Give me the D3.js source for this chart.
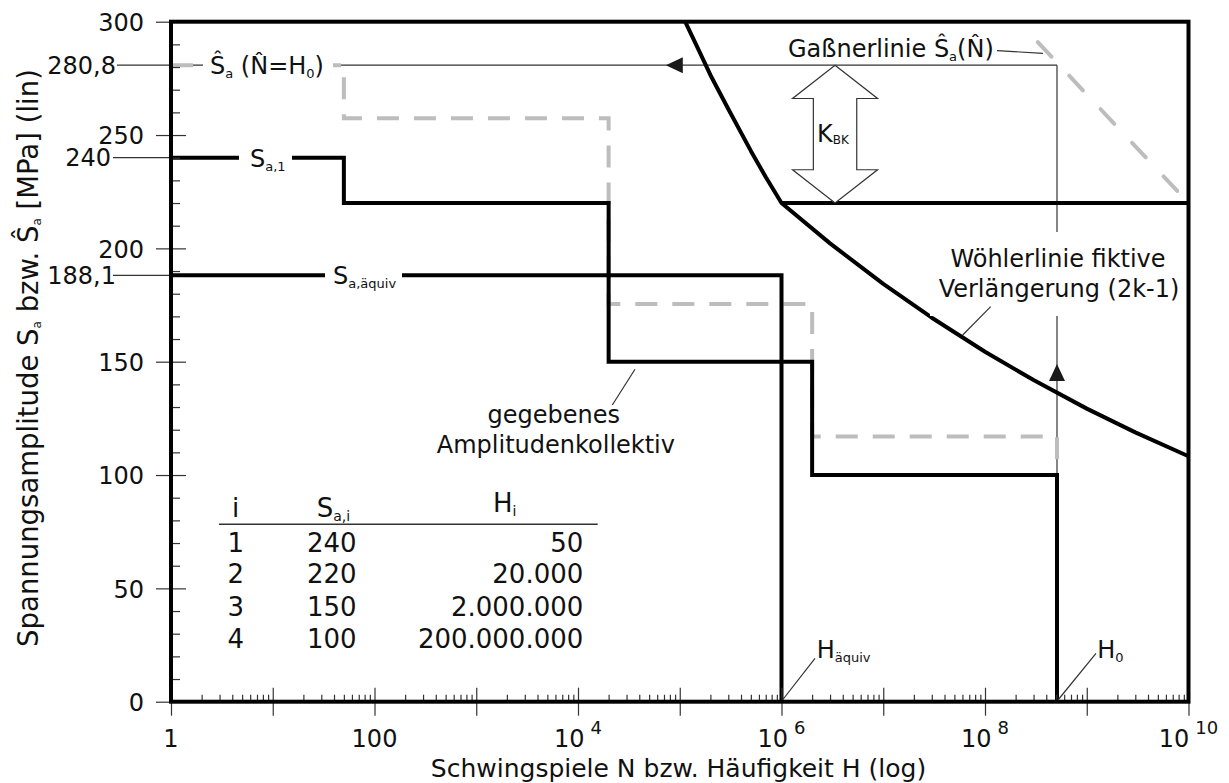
<!DOCTYPE html>
<html>
<head>
<meta charset="utf-8">
<script src="https://cdn.jsdelivr.net/npm/d3@7"></script>
<style>
  body { margin: 0; background: #fff; }
  svg { display: block; font-family: "DejaVu Sans", Verdana, sans-serif; }
</style>
</head>
<body>
<svg id="chart" width="1229" height="783"></svg>
<script>
// ---- given amplitude collective ----
const levelNo = [1, 2, 3, 4];
const amplitudes = [240, 220, 150, 100];              // S_a,i [MPa]
const frequencies = [50, 20000, 2000000, 200000000];  // H_i
const levelEnds = [50, 20000, 2000000];               // cycle counts where a level steps down
const H0 = 5.1e8;
const Hequiv = 1e6;
const Sequiv = 188.1;
const ShatH0 = 280.8;

// collective scaled up to the Gaßner line (dashed grey)
const scaledAmplitudes = [280.8, 257.4, 175.5, 117.0];

// S-N curve: slope k above the knee, fictive extension (2k-1) below
const wohlerUpperN = [1.13e5, 1.5e5, 2e5, 3e5, 5e5, 7e5, 1e6];
const wohlerUpperS = [300, 288.5, 276.5, 261.5, 243, 231.5, 220];
const wohlerLowerN = [1e6, 3e6, 1e7, 3e7, 1e8, 3e8, 1e9, 3e9, 1e10];
const wohlerLowerS = [220, 202.2, 184.3, 169.4, 154.4, 141.9, 129.3, 118.8, 108.3];
const kneeN = 1e6;
const kneeS = 220;

// Gaßner line
const gassnerN = [3.3e8, 1e10];
const gassnerS = [291, 220];

// K_BK arrow position and arrow heads on the construction lines
const kbkN = 3.36e6;
const leftArrowN = 7.3e4;
const upArrowS = 149;

// axes
const yMajorTicks = [0, 50, 100, 150, 200, 250, 300];
const yMinorTicks = [10, 20, 30, 40, 60, 70, 80, 90, 110, 120, 130, 140, 160, 170, 180, 190,
                     210, 220, 230, 240, 260, 270, 280, 290];
const yMarked = [280.8, 240, 188.1];
const xExponents = [0, 1, 2, 3, 4, 5, 6, 7, 8, 9, 10];
const xLabelExponents = [0, 2, 4, 6, 8, 10];
const xMinorMantissas = [2, 3, 4, 5, 6, 7, 8, 9];

const de = d3.formatLocale({ decimal: ",", thousands: ".", grouping: [3], currency: ["", "€"] });
const fmtDec = de.format(".1f");
const fmtInt = de.format(",d");

const svg = d3.select("#chart");
const x = d3.scaleLog().domain([1, 1e10]).range([171, 1188.5]);
const y = d3.scaleLinear().domain([0, 300]).range([701.7, 21.7]);

const THICK = 4;
const thin = "#333";

// ---- construction lines (thin) ----
svg.append("line")
  .attr("x1", 117).attr("x2", x(H0))
  .attr("y1", y(ShatH0)).attr("y2", y(ShatH0))
  .attr("stroke", thin).attr("stroke-width", 1.2);
svg.append("line")
  .attr("x1", x(H0)).attr("x2", x(H0))
  .attr("y1", y(ShatH0)).attr("y2", y(amplitudes[3]))
  .attr("stroke", thin).attr("stroke-width", 1.2);
[240, 188.1].forEach(v => {
  svg.append("line").attr("x1", 113).attr("x2", x(1))
    .attr("y1", y(v)).attr("y2", y(v)).attr("stroke", thin).attr("stroke-width", 1.2);
});

// ---- scaled collective (dashed grey) ----
const bounds = [1, ...levelEnds, H0];
const scaledPts = [];
scaledAmplitudes.forEach((s, i) => {
  scaledPts.push([bounds[i], s]);
  scaledPts.push([bounds[i + 1], s]);
});
scaledPts.push([H0, amplitudes[3]]);
const line = d3.line().x(d => x(d[0])).y(d => y(d[1]));
svg.append("path").attr("d", line(scaledPts))
  .attr("fill", "none").attr("stroke", "#bdbdbd").attr("stroke-width", THICK)
  .attr("stroke-dasharray", "22,15");

// Gaßner line
svg.append("path").attr("d", line(d3.zip(gassnerN, gassnerS)))
  .attr("fill", "none").attr("stroke", "#bdbdbd").attr("stroke-width", THICK)
  .attr("stroke-linecap", "round")
  .attr("stroke-dasharray", "20,26");

// ---- given collective (black steps) ----
const givenPts = [];
amplitudes.forEach((s, i) => {
  givenPts.push([bounds[i], s]);
  givenPts.push([bounds[i + 1], s]);
});
givenPts.push([H0, 0]);
svg.append("path").attr("d", line(givenPts))
  .attr("fill", "none").attr("stroke", "#000").attr("stroke-width", THICK);

// equivalent single-level collective
svg.append("path").attr("d", line([[1, Sequiv], [Hequiv, Sequiv], [Hequiv, 0]]))
  .attr("fill", "none").attr("stroke", "#000").attr("stroke-width", THICK);

// S-N curve
svg.append("path").attr("d", line(d3.zip(wohlerUpperN, wohlerUpperS).concat(d3.zip(wohlerLowerN, wohlerLowerS).slice(1))))
  .attr("fill", "none").attr("stroke", "#000").attr("stroke-width", THICK)
  .attr("stroke-linejoin", "round");
svg.append("path").attr("d", line([[kneeN, kneeS], [1e10, kneeS]]))
  .attr("fill", "none").attr("stroke", "#000").attr("stroke-width", THICK);

// ---- ticks ----
const yMajor = svg.append("g").attr("transform", `translate(${x(1)},0)`)
  .call(d3.axisLeft(y).tickValues(yMajorTicks).tickSize(15).tickPadding(12)
    .tickFormat(d => String(d)));
yMajor.select(".domain").remove();
yMajor.selectAll(".tick line").attr("x1", 15).attr("stroke", thin).attr("stroke-width", 1.2);
yMajor.selectAll(".tick text").attr("font-size", 24).attr("font-family", "DejaVu Sans")
  .attr("fill", "#111").attr("dy", "0.36em");

const yMinor = svg.append("g").attr("transform", `translate(${x(1)},0)`)
  .call(d3.axisLeft(y).tickValues(yMinorTicks).tickSize(-9).tickFormat(""));
yMinor.select(".domain").remove();
yMinor.selectAll(".tick line").attr("stroke", thin).attr("stroke-width", 1.2);

svg.append("g").selectAll("text").data(yMarked).join("text")
  .attr("x", d => d === 240 ? 111 : 116)
  .attr("y", d => y(d)).attr("dy", "0.36em")
  .attr("text-anchor", "end").attr("font-size", 24).attr("fill", "#111")
  .text(d => d === 240 ? "240" : fmtDec(d));

const xMajor = svg.append("g").attr("transform", `translate(0,${y(0)})`)
  .call(d3.axisBottom(x).tickValues(xExponents.map(e => Math.pow(10, e))).tickSize(14).tickFormat(""));
xMajor.select(".domain").remove();
xMajor.selectAll(".tick line").attr("y1", -14).attr("stroke", thin).attr("stroke-width", 1.2);

const xMinorVals = [];
xExponents.slice(0, -1).forEach(e => xMinorMantissas.forEach(m => xMinorVals.push(m * Math.pow(10, e))));
const xMinor = svg.append("g").attr("transform", `translate(0,${y(0)})`)
  .call(d3.axisBottom(x).tickValues(xMinorVals).tickSize(-7).tickFormat(""));
xMinor.select(".domain").remove();
xMinor.selectAll(".tick line").attr("stroke", thin).attr("stroke-width", 1.2);

const xLab = svg.append("g");
xLabelExponents.forEach(e => {
  const t = xLab.append("text").attr("x", x(Math.pow(10, e))).attr("y", 747)
    .attr("text-anchor", "middle").attr("font-size", 24).attr("fill", "#111");
  if (e === 0) t.text("1");
  else if (e === 2) t.text("100");
  else {
    t.append("tspan").text("10");
    t.append("tspan").attr("dx", 6).attr("dy", -13).attr("font-size", 18).text(String(e));
  }
});

// frame
svg.append("rect").attr("x", x(1)).attr("y", y(300))
  .attr("width", x(1e10) - x(1)).attr("height", y(0) - y(300))
  .attr("fill", "none").attr("stroke", "#000").attr("stroke-width", THICK);

// ---- text helpers ----
function rich(x0, y0, parts, opts = {}) {
  const t = svg.append("text").attr("x", x0).attr("y", y0)
    .attr("font-size", opts.size || 24).attr("fill", "#111")
    .attr("text-anchor", opts.anchor || "start");
  let shift = 0;
  parts.forEach(p => {
    const off = p.sub ? (p.off || 4) : 0;
    const ts = t.append("tspan").attr("dy", off - shift).text(p.t);
    if (p.sub) ts.attr("font-size", p.size || 13);
    shift = off;
  });
  return t;
}
function backdrop(t, x0, y0, x1, y1) {
  svg.insert("rect", () => t.node())
    .attr("x", x0).attr("y", y0).attr("width", x1 - x0).attr("height", y1 - y0).attr("fill", "#fff");
}

// labels on the lines
let t = rich(210, y(ShatH0) + 9, [{ t: "Ŝ" }, { t: "a", sub: true }, { t: " (N\u0302=H" }, { t: "0", sub: true }, { t: ")" }]);
backdrop(t, 203, y(ShatH0) - 5, 333, y(ShatH0) + 5);
t = rich(250, y(240) + 9, [{ t: "S" }, { t: "a,1", sub: true }]);
backdrop(t, 239, y(240) - 5, 292, y(240) + 5);
t = rich(333, y(Sequiv) + 9, [{ t: "S" }, { t: "a,äquiv", sub: true }]);
backdrop(t, 325, y(Sequiv) - 5, 402, y(Sequiv) + 5);

// Gaßner label with leader
rich(788, 56.7, [{ t: "Gaßnerlinie Ŝ" }, { t: "a", sub: true }, { t: "(N\u0302)" }]);
svg.append("line").attr("x1", 997).attr("y1", 50.7).attr("x2", 1043).attr("y2", 53.3)
  .attr("stroke", thin).attr("stroke-width", 1.2);

// K_BK double arrow
{
  const cx = x(kbkN), yt = y(ShatH0), yb = y(kneeS);
  const hw = 42.5, sw = 21.7, hl = 33.3;
  const pts = [[cx, yt], [cx + hw, yt + hl], [cx + sw, yt + hl], [cx + sw, yb - hl], [cx + hw, yb - hl],
               [cx, yb], [cx - hw, yb - hl], [cx - sw, yb - hl], [cx - sw, yt + hl], [cx - hw, yt + hl]];
  svg.append("polygon").attr("points", pts.map(p => p.join(",")).join(" "))
    .attr("fill", "#fff").attr("stroke", thin).attr("stroke-width", 1.2);
  rich(cx - 18, 141.7, [{ t: "K" }, { t: "BK", sub: true, size: 12, off: 2 }]);
}

// arrow heads on construction lines
{
  const ax = x(leftArrowN), ay = y(ShatH0);
  svg.append("polygon").attr("points", `${ax},${ay} ${ax + 17},${ay - 8} ${ax + 17},${ay + 8}`).attr("fill", "#1a1a1a");
  const ux = x(H0), uy = y(upArrowS);
  svg.append("polygon").attr("points", `${ux},${uy} ${ux - 8},${uy + 17} ${ux + 8},${uy + 17}`).attr("fill", "#1a1a1a");
}

// S-N curve label
svg.append("rect").attr("x", 930).attr("y", 232).attr("width", 255).attr("height", 84).attr("fill", "#fff");
rich(1058, 266.7, [{ t: "Wöhlerlinie fiktive" }], { anchor: "middle" });
rich(1059, 296.7, [{ t: "Verlängerung (2k-1)" }], { anchor: "middle" });
svg.append("line").attr("x1", 990.7).attr("y1", 306.7).attr("x2", 962.7).attr("y2", 335)
  .attr("stroke", thin).attr("stroke-width", 1.2);

// collective label
rich(620, 423, [{ t: "gegebenes" }], { anchor: "end" });
rich(675, 453, [{ t: "Amplitudenkollektiv" }], { anchor: "end" });
svg.append("line").attr("x1", 635).attr("y1", 369.3).attr("x2", 612.3).attr("y2", 405)
  .attr("stroke", thin).attr("stroke-width", 1.2);

// H labels at the axis
rich(816.7, 658.3, [{ t: "H" }, { t: "äquiv", sub: true }]);
svg.append("line").attr("x1", x(Hequiv) + 1).attr("y1", 700).attr("x2", 815).attr("y2", 658.3)
  .attr("stroke", thin).attr("stroke-width", 1.2);
rich(1097.3, 658.3, [{ t: "H" }, { t: "0", sub: true }]);
svg.append("line").attr("x1", x(H0) + 1).attr("y1", 700).attr("x2", 1096).attr("y2", 653.3)
  .attr("stroke", thin).attr("stroke-width", 1.2);

// ---- table ----
const colI = 235.7, colS = 331.7, colH = 583.3;
rich(colI, 517, [{ t: "i" }], { anchor: "middle", size: 26 });
rich(316.7, 517, [{ t: "S" }, { t: "a,i", sub: true, size: 14 }], { size: 26 });
rich(493, 512, [{ t: "H" }, { t: "i", sub: true, size: 14 }], { size: 26 });
svg.append("line").attr("x1", 219).attr("x2", 597.7).attr("y1", 524.3).attr("y2", 524.3)
  .attr("stroke", thin).attr("stroke-width", 1.5);
const rowY = [551.7, 583.3, 615.7, 648.3];
levelNo.forEach((n, i) => {
  rich(colI, rowY[i], [{ t: String(n) }], { anchor: "middle", size: 26 });
  rich(colS, rowY[i], [{ t: String(amplitudes[i]) }], { anchor: "middle", size: 26 });
  rich(colH, rowY[i], [{ t: fmtInt(frequencies[i]) }], { anchor: "end", size: 26 });
});

// ---- axis titles ----
svg.append("text").attr("x", 678.5).attr("y", 777).attr("text-anchor", "middle")
  .attr("font-size", 25).attr("fill", "#111")
  .text("Schwingspiele N bzw. Häufigkeit H (log)");
{
  const yt = svg.append("text").attr("transform", "translate(38,358) rotate(-90)")
    .attr("text-anchor", "middle").attr("font-size", 27.5).attr("fill", "#111");
  const parts = [{ t: "Spannungsamplitude S" }, { t: "a", sub: true, size: 12 }, { t: " bzw. Ŝ" }, { t: "a", sub: true, size: 12 }, { t: " [MPa] (lin)" }];
  let shift = 0;
  parts.forEach(p => {
    const off = p.sub ? 3 : 0;
    const ts = yt.append("tspan").attr("dy", off - shift).text(p.t);
    if (p.sub) ts.attr("font-size", p.size);
    shift = off;
  });
}
</script>
</body>
</html>
